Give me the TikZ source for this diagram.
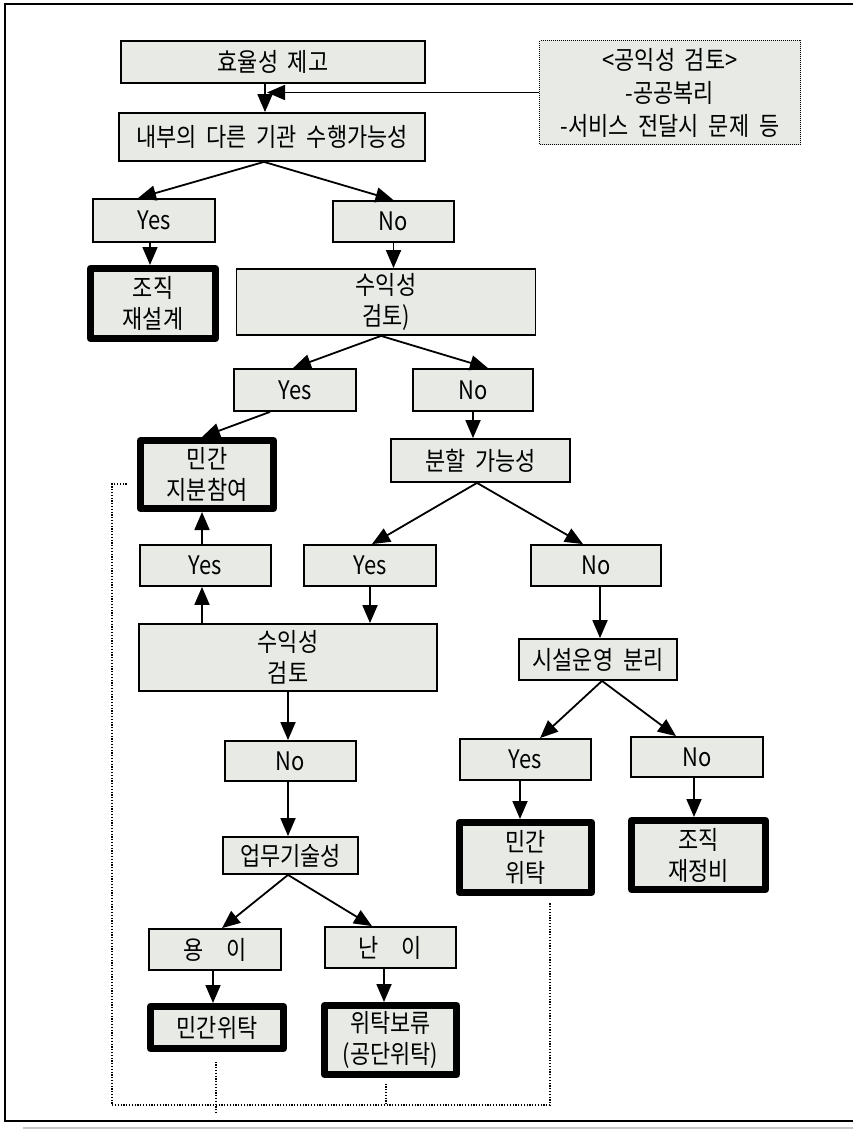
\documentclass[tikz,border=0pt]{standalone}
\usepackage{fontspec}
\setmainfont[FakeStretch=0.86,WordSpace=2]{Noto Sans CJK KR}
\usetikzlibrary{arrows.meta,calc}
\definecolor{boxfill}{RGB}{231,234,229}
\newcommand{\myfs}{\fontsize{25.5}{31}\selectfont}
\begin{document}
\begin{tikzpicture}[x=1pt,y=-1pt,
  box/.style={draw=black, line width=1.8pt, fill=boxfill, inner sep=0pt, align=center, font=\myfs},
  endbox/.style={box, line width=7pt, line join=round},
  notebox/.style={box, line width=1pt, dash pattern=on 1pt off 1pt, font=\fontsize{25.5}{33}\selectfont},
  arr/.style={line width=1.8pt, -{Triangle[length=18pt,width=15pt]}},
  dotline/.style={line width=1.2pt, dash pattern=on 1.2pt off 1.6pt}
]
\useasboundingbox (0,0) rectangle (852,1129);
% outer frame
\draw[line width=2pt] (860,4) -- (5,4) -- (5,1121) -- (860,1121);
\draw[line width=2pt, black!22] (23,1128) -- (860,1128);

% nodes
\node[box, minimum width=304pt, minimum height=42pt] (eff) at (273,62) {효율성 제고};
\node[notebox, minimum width=261pt, minimum height=104pt] (pub) at (670,92.5) {<공익성 검토>\\-공공복리\\-서비스 전달시 문제 등};
\node[box, minimum width=306pt, minimum height=48pt] (inner) at (272,137) {내부의 다른 기관 수행가능성};
\node[box, minimum width=122pt, minimum height=43pt] (y1) at (154,220.5) {Yes};
\node[box, minimum width=121pt, minimum height=41pt] (n1) at (393.5,221.5) {No};
\node[endbox, minimum width=125pt, minimum height=70pt] (r1) at (153,303.5) {조직\\재설계};
\node[box, minimum width=299pt, minimum height=66pt] (p1) at (386,302) {수익성\\검토)};
\node[box, minimum width=122pt, minimum height=42pt] (y2) at (295,390) {Yes};
\node[box, minimum width=120pt, minimum height=42pt] (n2) at (473,390) {No};
\node[endbox, minimum width=133pt, minimum height=68pt] (r2) at (207,474.5) {민간\\지분참여};
\node[box, minimum width=179pt, minimum height=43pt] (d1) at (480.5,460.5) {분할 가능성};
\node[box, minimum width=131pt, minimum height=41pt] (y3) at (205.5,565.5) {Yes};
\node[box, minimum width=132pt, minimum height=41pt] (y4) at (370,565.5) {Yes};
\node[box, minimum width=130pt, minimum height=41pt] (n3) at (596,565.5) {No};
\node[box, minimum width=298pt, minimum height=67pt] (p2) at (288,657.5) {수익성\\검토};
\node[box, minimum width=158pt, minimum height=41pt] (s1) at (598,659.5) {시설운영 분리};
\node[box, minimum width=131pt, minimum height=40pt] (n4) at (290.5,761) {No};
\node[box, minimum width=131pt, minimum height=41pt] (y5) at (525.5,759.5) {Yes};
\node[box, minimum width=132pt, minimum height=40pt] (n5) at (697,757) {No};
\node[endbox, minimum width=132pt, minimum height=70pt] (r3) at (525.5,857.5) {민간\\위탁};
\node[endbox, minimum width=134pt, minimum height=69pt] (r4) at (698.5,855) {조직\\재정비};
\node[box, minimum width=135pt, minimum height=37pt] (t1) at (290.5,855.5) {업무기술성};
\node[box, minimum width=132pt, minimum height=41pt] (e1) at (215,949.5) {용\hspace{0.9em}이};
\node[box, minimum width=131pt, minimum height=41pt] (e2) at (390.5,947.5) {난\hspace{0.9em}이};
\node[endbox, minimum width=133pt, minimum height=42pt] (r5) at (217,1027.5) {민간위탁};
\node[endbox, minimum width=132pt, minimum height=69pt] (r6) at (390.5,1040) {위탁보류\\(공단위탁)};

% connectors
\draw[arr] ($(eff.south)+(-8,0)$) -- ($(inner.north)+(-7,0)$);
\coordinate (j) at ($(inner.north)+(-5,-21)$);
\draw[arr] (pub.west) -- (pub.west -| j);
\coordinate (c0) at ($(inner.south)+(-8,0)$);
\draw[arr] (c0) -- ($(y1.north)+(-16,0)$);
\draw[arr] (c0) -- (n1.north);
\coordinate (c1) at ($(y1.south)+(-4,0)$);
\draw[arr] (c1) -- (c1 |- r1.north);
\draw[arr] (n1.south) -- (n1.south |- p1.north);
\coordinate (c2) at ($(p1.south)+(-5,0)$);
\draw[arr] (c2) -- ($(y2.north)+(-2,0)$);
\draw[arr] (c2) -- ($(n2.north)+(15,0)$);
\draw[arr] ($(y2.south)+(-25,0)$) -- ($(r2.north)+(-5,0)$);
\draw[arr] (n2.south) -- (n2.south |- d1.north);
\coordinate (c3) at ($(d1.south)+(-3.5,0)$);
\draw[arr] (c3) -- ($(y4.north)+(2,0)$);
\draw[arr] (c3) -- ($(n3.north)+(-13,0)$);
\coordinate (c4) at ($(y3.south)+(-3.5,0)$);
\draw[arr] (c4 |- p2.north) -- (c4);
\draw[arr] (c4 |- y3.north) -- (c4 |- r2.south);
\draw[arr] (y4.south) -- (y4.south |- p2.north);
\coordinate (c5) at ($(n3.south)+(4,0)$);
\draw[arr] (c5) -- (c5 |- s1.north);
\draw[arr] (p2.south) -- (p2.south |- n4.north);
\coordinate (c6) at ($(n4.south)+(-2.5,0)$);
\draw[arr] (c6) -- (c6 |- t1.north);
\coordinate (c7) at ($(s1.south)+(4,0)$);
\draw[arr] (c7) -- ($(y5.north)+(14.5,0)$);
\draw[arr] (c7) -- ($(n5.north)+(-21,0)$);
\coordinate (c8) at ($(y5.south)+(-5.5,0)$);
\draw[arr] (c8) -- (c8 |- r3.north);
\coordinate (c9) at ($(n5.south)+(-3,0)$);
\draw[arr] (c9) -- (c9 |- r4.north);
\coordinate (c10) at ($(t1.south)+(-2.5,0)$);
\draw[arr] (c10) -- ($(e1.north)+(7,0)$);
\draw[arr] (c10) -- ($(e2.north)+(-18.5,0)$);
\coordinate (c11) at ($(e1.south)+(-2,0)$);
\draw[arr] (c11) -- (c11 |- r5.north);
\coordinate (c12) at ($(e2.south)+(-6.5,0)$);
\draw[arr] (c12) -- (c12 |- r6.north);

% dotted links
\coordinate (d0) at ($(r2.west)+(-10.5,9.5)$);
\coordinate (dB) at (112,1105);
\coordinate (d3) at ($(r3.south)+(24.5,6.5)$);
\draw[dotline] (d0) -- (d0 -| dB) -- (dB) -- (dB -| d3) -- (d3);
\coordinate (d5) at ($(r5.south)+(-1,9.5)$);
\draw[dotline] (d5) -- ++(0,52);
\coordinate (d6) at ($(r6.south)+(-4.5,5.5)$);
\draw[dotline] (d6) -- (d6 |- dB);
\end{tikzpicture}
\end{document}
